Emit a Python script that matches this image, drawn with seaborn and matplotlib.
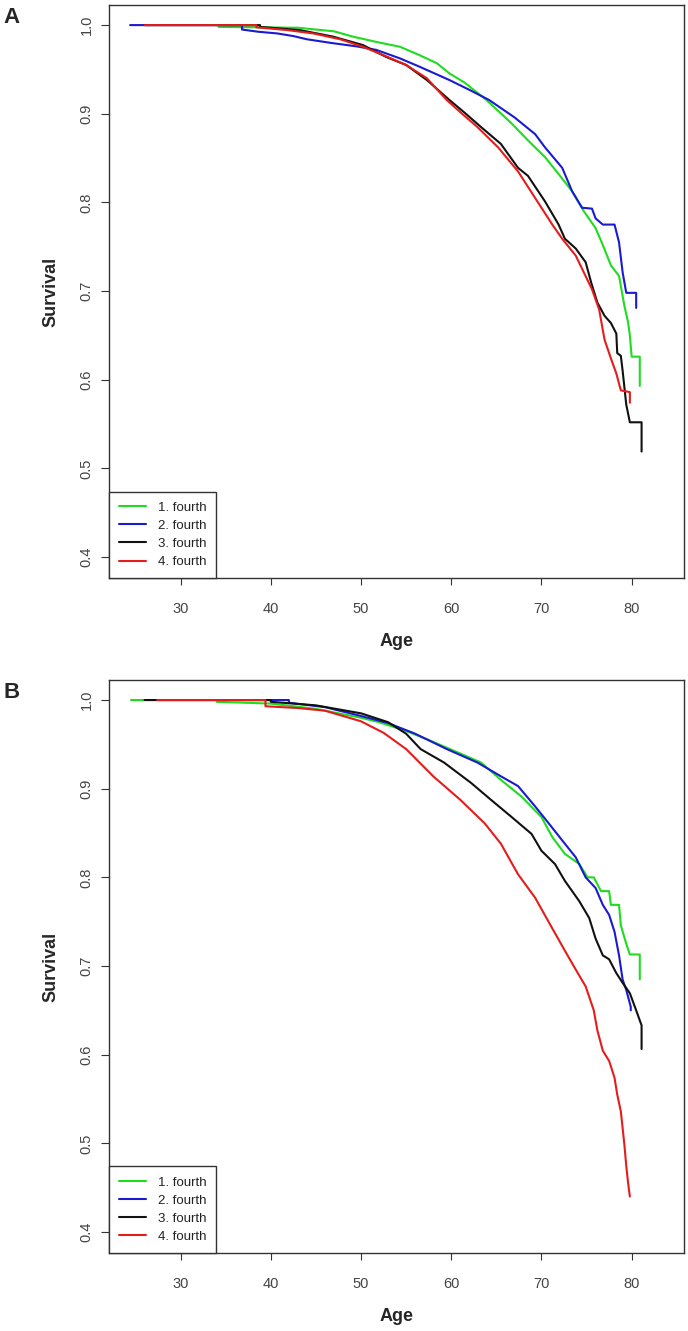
import matplotlib
matplotlib.use('Agg')
import matplotlib.pyplot as plt
import pandas as pd
import seaborn as sns

groups = ['1. fourth', '2. fourth', '3. fourth', '4. fourth']
colors = ['#1fdc1f', '#1a1ad0', '#111111', '#e51c1c']
x_ticks = [30, 40, 50, 60, 70, 80]
y_ticks = [0.4, 0.5, 0.6, 0.7, 0.8, 0.9, 1.0]
y_tick_labels = ['0.4', '0.5', '0.6', '0.7', '0.8', '0.9', '1.0']

# panel A, vertices
a_age_1 = [34.2, 43.0, 47.0, 49.1, 51.7, 54.3, 56.5, 58.4, 59.8, 61.5, 63.9, 66.7, 68.5, 70.4,
           71.9, 73.4, 74.7, 76.0, 76.8, 77.7, 78.6, 79.2, 79.6, 79.8, 80.0, 80.9, 80.9]
a_surv_1 = [0.998, 0.997, 0.993, 0.987, 0.981, 0.9756, 0.966, 0.957, 0.9455, 0.935, 0.9155, 0.889,
            0.870, 0.851, 0.832, 0.8125, 0.790, 0.771, 0.752, 0.729, 0.717, 0.683, 0.665, 0.650,
            0.626, 0.626, 0.593]
a_age_2 = [24.4, 36.8, 36.8, 38.6, 40.7, 42.5, 44.0, 46.6, 49.5, 51.7, 54.3, 56.5, 59.8, 62.0,
           64.2, 67.0, 69.3, 70.4, 72.3, 73.4, 74.5, 75.6, 76.0, 76.8, 78.1, 78.6, 79.0, 79.4,
           80.5, 80.5]
a_surv_2 = [1.0, 1.0, 0.995, 0.9925, 0.9906, 0.9876, 0.984, 0.980, 0.976, 0.972, 0.9625, 0.953,
            0.938, 0.927, 0.9155, 0.896, 0.877, 0.862, 0.839, 0.8125, 0.794, 0.793, 0.782, 0.775,
            0.775, 0.755, 0.721, 0.698, 0.698, 0.681]
a_age_3 = [26.0, 38.8, 38.8, 43.2, 46.9, 50.2, 52.8, 55.0, 57.3, 59.8, 61.5, 63.3, 65.5, 67.4,
           68.5, 70.4, 71.9, 72.6, 73.8, 74.9, 75.5, 76.2, 77.0, 77.7, 78.3, 78.4, 78.8, 79.0,
           79.2, 79.4, 79.8, 81.1, 81.1]
a_surv_3 = [1.0, 1.0, 0.998, 0.9944, 0.987, 0.9775, 0.964, 0.955, 0.938, 0.9155, 0.901, 0.885,
            0.866, 0.839, 0.830, 0.801, 0.775, 0.759, 0.748, 0.7325, 0.710, 0.687, 0.672, 0.664,
            0.652, 0.630, 0.627, 0.610, 0.591, 0.572, 0.552, 0.552, 0.519]
a_age_4 = [26.0, 38.4, 38.4, 41.8, 44.7, 47.7, 50.2, 52.5, 55.0, 57.3, 59.5, 61.2, 62.9, 65.2,
           67.4, 69.3, 71.2, 72.3, 73.8, 74.7, 75.6, 76.4, 76.8, 77.0, 77.7, 78.3, 78.8, 79.8,
           79.8]
a_surv_4 = [1.0, 1.0, 0.9975, 0.9944, 0.9906, 0.984, 0.9756, 0.966, 0.955, 0.940, 0.9155, 0.900,
            0.885, 0.862, 0.835, 0.805, 0.775, 0.759, 0.740, 0.721, 0.702, 0.679, 0.656, 0.645,
            0.624, 0.607, 0.588, 0.586, 0.574]

# panel B
b_age_1 = [24.5, 34.0, 34.0, 40.0, 45.0, 50.0, 52.0, 55.0, 57.5, 60.7, 63.3, 65.5, 67.8, 70.0,
           71.2, 72.6, 74.2, 75.1, 75.8, 76.6, 77.5, 77.7, 78.6, 78.8, 79.4, 79.8, 80.9, 80.9]
b_surv_1 = [1.0, 1.0, 0.998, 0.996, 0.990, 0.980, 0.975, 0.965, 0.955, 0.941, 0.9295, 0.910,
            0.891, 0.868, 0.8455, 0.8265, 0.815, 0.800, 0.800, 0.7845, 0.7845, 0.769, 0.769,
            0.746, 0.725, 0.713, 0.713, 0.685]
b_age_2 = [36.0, 42.0, 42.0, 46.0, 50.0, 53.0, 56.0, 59.5, 62.9, 65.5, 67.4, 69.3, 70.8, 72.3,
           73.8, 74.9, 76.0, 76.8, 77.5, 78.1, 78.6, 79.0, 79.4, 79.9, 79.9]
b_surv_2 = [1.0, 1.0, 0.997, 0.992, 0.982, 0.974, 0.962, 0.9447, 0.9295, 0.914, 0.903, 0.880,
            0.861, 0.8417, 0.8226, 0.800, 0.788, 0.769, 0.7577, 0.7386, 0.712, 0.6846, 0.673,
            0.654, 0.650]
b_age_3 = [26.0, 40.0, 40.0, 45.0, 50.0, 53.0, 55.0, 56.6, 59.2, 62.2, 64.4, 66.7, 68.9, 70.0,
           71.5, 72.6, 74.2, 75.3, 76.0, 76.8, 77.5, 78.3, 79.0, 79.8, 80.5, 81.1, 81.1]
b_surv_3 = [1.0, 1.0, 0.998, 0.994, 0.985, 0.975, 0.962, 0.9447, 0.9295, 0.9065, 0.8875, 0.868,
            0.849, 0.830, 0.815, 0.796, 0.773, 0.754, 0.731, 0.712, 0.7076, 0.692, 0.681, 0.6693,
            0.650, 0.633, 0.6064]
b_age_4 = [27.4, 39.4, 39.4, 43.0, 46.0, 50.0, 52.5, 55.0, 58.0, 61.0, 63.7, 65.5, 67.4, 69.3,
           71.2, 72.5, 73.8, 74.9, 75.8, 76.2, 76.8, 77.5, 78.1, 78.4, 78.8, 79.0, 79.2, 79.4,
           79.6, 79.8]
b_surv_4 = [1.0, 1.0, 0.993, 0.991, 0.988, 0.976, 0.963, 0.9447, 0.914, 0.8875, 0.861, 0.838,
            0.8035, 0.777, 0.7425, 0.719, 0.696, 0.677, 0.650, 0.6274, 0.6045, 0.593, 0.574,
            0.555, 0.536, 0.517, 0.4977, 0.4747, 0.4557, 0.440]


def make_frame(ages, survs):
    parts = []
    for g, x, y in zip(groups, ages, survs):
        parts.append(pd.DataFrame({'age': x, 'survival': y, 'group': g}))
    return pd.concat(parts, ignore_index=True)


def draw_panel(ax, df, letter):
    sns.lineplot(data=df, x='age', y='survival', hue='group', hue_order=groups,
                 palette=colors, estimator=None, sort=False, linewidth=1.5, ax=ax)
    ax.set_xlim(22.1, 85.75)
    ax.set_ylim(0.3763, 1.0226)
    ax.set_xticks(x_ticks)
    ax.set_xticklabels([str(t) for t in x_ticks])
    ax.set_yticks(y_ticks)
    ax.set_yticklabels(y_tick_labels, rotation=90, va='center')
    ax.tick_params(axis='x', bottom=True, length=5, width=0.8, pad=12, labelsize=10.5,
                   colors='#333333', labelcolor='#444444')
    ax.tick_params(axis='y', left=True, length=5.5, width=0.8, pad=6, labelsize=10.5,
                   colors='#333333', labelcolor='#444444')
    for s in ax.spines.values():
        s.set_color('#333333')
        s.set_linewidth(1.0)
    ax.set_xlabel('Age', fontsize=13, fontweight='bold')
    ax.set_ylabel('Survival', fontsize=13, fontweight='bold')
    ax.xaxis.set_label_coords(0.5, -0.11)
    ax.xaxis.label.set_va('center')
    ax.yaxis.set_label_coords(-0.102, 0.5)
    ax.yaxis.label.set_va('center')
    handles, labels = ax.get_legend_handles_labels()
    leg = ax.legend(handles, labels, loc='lower left', bbox_to_anchor=(0, 0), borderaxespad=0,
                    frameon=True, fancybox=False, framealpha=1, edgecolor='#333333',
                    fontsize=9.5, handlelength=2.0, handletextpad=0.9, borderpad=0.75,
                    labelspacing=0.45)
    leg.get_frame().set_linewidth(1.0)
    for t in leg.get_texts():
        t.set_color('#222222')
    ax.text(-0.184, 0.979, letter, transform=ax.transAxes, fontsize=16, fontweight='bold',
            ha='left', va='center')


sns.set_style('white')
plt.rcParams['font.family'] = ['Liberation Sans', 'DejaVu Sans']

fig = plt.figure(figsize=(6.88, 13.31), dpi=100)
ax_a = fig.add_axes([0.159, 0.5657, 0.8345, 0.4305])
ax_b = fig.add_axes([0.159, 0.0586, 0.8345, 0.4305])

draw_panel(ax_a, make_frame([a_age_1, a_age_2, a_age_3, a_age_4],
                            [a_surv_1, a_surv_2, a_surv_3, a_surv_4]), 'A')
draw_panel(ax_b, make_frame([b_age_1, b_age_2, b_age_3, b_age_4],
                            [b_surv_1, b_surv_2, b_surv_3, b_surv_4]), 'B')

fig.savefig('out.png', dpi=100, facecolor='white')
plt.close(fig)
